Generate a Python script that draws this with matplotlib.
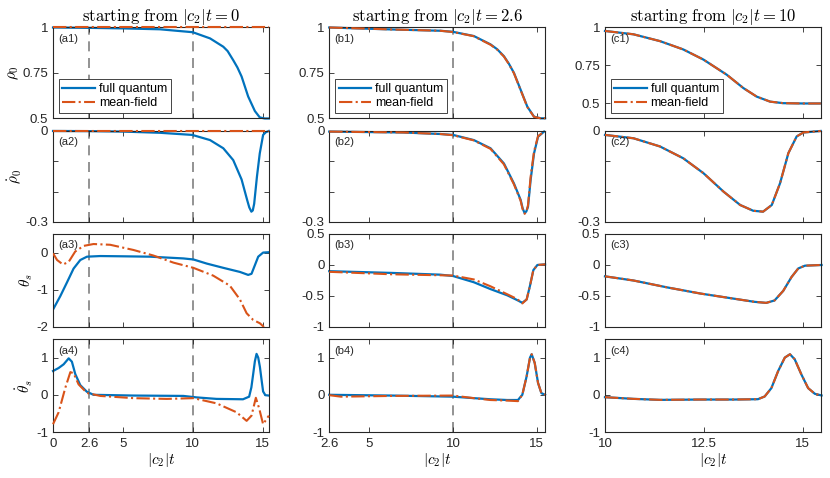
import matplotlib
matplotlib.use("Agg")
import matplotlib.pyplot as plt

plt.rcParams.update({
    "font.family": "Liberation Sans",
    "mathtext.fontset": "cm",
    "axes.unicode_minus": False,
    "font.size": 9,
})

BLUE = "#0072BD"
ORANGE = "#D95319"

# ---- column a: starting from |c2|t = 0 ----
A1_T_FQ = [0, 2.6, 5, 7.66, 10, 11.24, 12.19, 12.5, 12.9, 13.2, 13.5, 13.97, 14.45, 14.8, 15.16, 15.45]
A1_FQ = [1.0, 0.998, 0.995, 0.99, 0.974, 0.94, 0.894, 0.87, 0.82, 0.78, 0.73, 0.62, 0.54, 0.505, 0.499, 0.499]
A1_T_MF = [0, 15.45]
A1_MF = [1.0, 1.0]

A2_T_FQ = [0, 2.6, 5, 7.66, 9.97, 11.24, 12.19, 12.9, 13.5, 13.9, 14.05, 14.2, 14.3, 14.4,
           14.6, 14.8, 15.04, 15.24, 15.45]
A2_FQ = [0, -0.0005, -0.002, -0.006, -0.013, -0.03, -0.057, -0.096, -0.16, -0.228, -0.252, -0.266,
         -0.262, -0.24, -0.15, -0.074, -0.013, -0.004, 0]
A2_T_MF = [0, 15.45]
A2_MF = [0.0, 0.0]

A3_T_FQ = [0, 0.52, 1.0, 1.47, 1.95, 2.43, 3.38, 5, 6.95, 9.33, 10.05, 11.0, 12.19, 13.38,
           13.97, 14.21, 14.45, 14.69, 15.04, 15.45]
A3_FQ = [-1.53, -1.17, -0.8, -0.43, -0.2, -0.11, -0.093, -0.1, -0.11, -0.157, -0.185, -0.295,
         -0.41, -0.52, -0.6, -0.57, -0.34, -0.11, 0, 0.01]
A3_T_MF = [0, 0.29, 0.71, 1.12, 1.59, 2.19, 2.9, 4.09, 5.76, 7.19, 8.62, 10.05, 11.47, 12.66,
           13.38, 13.86, 14.33, 14.81, 15.1]
A3_MF = [-0.02, -0.2, -0.32, -0.25, 0.03, 0.18, 0.23, 0.21, 0.07, -0.08, -0.27, -0.41, -0.62,
         -0.89, -1.26, -1.63, -1.81, -1.9, -2.0]

A4_T_FQ = [0, 0.4, 0.76, 1.12, 1.35, 1.59, 1.95, 2.43, 2.9, 5.76, 9.33, 10.29, 11.71, 13.6,
           14.04, 14.2, 14.33, 14.45, 14.57, 14.69, 14.81, 14.93, 15.04, 15.2, 15.45]
A4_FQ = [0.64, 0.72, 0.82, 0.98, 0.89, 0.56, 0.26, 0.08, 0.0, -0.02, -0.03, -0.07, -0.11, -0.12,
         -0.05, 0.2, 0.56, 0.9, 1.1, 1.0, 0.75, 0.4, 0.09, -0.01, -0.02]
A4_T_MF = [0, 0.4, 0.88, 1.24, 1.47, 1.83, 2.43, 3.38, 5.76, 8.14, 10.05, 11.71, 13.14, 13.86,
           14.21, 14.52, 14.76, 15.04, 15.45]
A4_MF = [-0.79, -0.47, 0.19, 0.61, 0.58, 0.28, 0.05, -0.03, -0.09, -0.11, -0.09, -0.23, -0.47,
         -0.7, -0.56, -0.08, -0.37, -0.79, -0.56]

# ---- column b: starting from |c2|t = 2.6 ----
B1_T = [2.6, 6.04, 9.24, 10, 11.24, 12.24, 12.64, 13.04, 13.34, 13.64, 14.04, 14.44, 14.84, 15.24, 15.5]
B1_FQ = [1.0, 0.99, 0.982, 0.976, 0.953, 0.907, 0.88, 0.842, 0.8, 0.75, 0.657, 0.564, 0.509, 0.5, 0.5]
B1_MF = [1.0, 0.99, 0.982, 0.975, 0.952, 0.905, 0.878, 0.84, 0.798, 0.748, 0.655, 0.562, 0.508, 0.5, 0.5]

B2_T = [2.6, 7.04, 9.24, 10, 11.24, 12.24, 13.04, 13.64, 14.04, 14.16, 14.28, 14.38, 14.48,
        14.64, 14.84, 15.08, 15.44]
B2_FQ = [-0.002, -0.005, -0.01, -0.013, -0.03, -0.057, -0.107, -0.173, -0.227, -0.255, -0.271,
         -0.265, -0.25, -0.16, -0.074, -0.019, -0.002]
B2_MF = [-0.002, -0.005, -0.01, -0.014, -0.031, -0.059, -0.11, -0.176, -0.23, -0.258, -0.273,
         -0.267, -0.245, -0.15, -0.068, -0.017, -0.002]

B3_T_FQ = [2.6, 6.34, 9.24, 10, 11.24, 12.24, 13.24, 13.84, 14.14, 14.4, 14.6, 14.8, 15.04, 15.5]
B3_FQ = [-0.1, -0.128, -0.156, -0.178, -0.278, -0.389, -0.489, -0.567, -0.61, -0.556, -0.333,
         -0.083, 0, 0.01]
B3_T_MF = [2.6, 6.34, 10, 11.24, 12.24, 13.24, 13.84, 14.14, 14.4, 14.6, 14.8, 15.04, 15.5]
B3_MF = [-0.11, -0.15, -0.17, -0.233, -0.344, -0.472, -0.55, -0.62, -0.556, -0.333, -0.083, 0, 0.01]

B4_T_FQ = [2.6, 6.34, 10, 11.24, 12.24, 13.24, 13.88, 14.14, 14.4, 14.6, 14.7, 14.88, 15.08, 15.28, 15.5]
B4_FQ = [0, -0.02, -0.05, -0.09, -0.12, -0.14, -0.14, 0, 0.5, 1.0, 1.09, 0.86, 0.32, 0.045, 0]
B4_T_MF = [2.6, 3.3, 6.34, 10, 11.24, 12.24, 13.24, 13.88, 14.14, 14.4, 14.6, 14.7, 14.88, 15.08, 15.28, 15.5]
B4_MF = [-0.01, -0.05, -0.03, -0.02, -0.09, -0.14, -0.155, -0.17, 0, 0.5, 1.0, 1.09, 0.86, 0.32, 0.045, 0]

# ---- column c: starting from |c2|t = 10 (both curves coincide) ----
C1_T = [10, 10.72, 11.39, 11.98, 12.49, 13.08, 13.5, 13.84, 14.18, 14.51, 15.0, 15.46]
C1_FQ = [0.977, 0.955, 0.91, 0.855, 0.788, 0.688, 0.6, 0.543, 0.51, 0.5, 0.498, 0.498]
C1_MF = C1_FQ

C2_T = [10, 10.72, 11.39, 11.98, 12.49, 13.0, 13.42, 13.75, 14.0, 14.22, 14.43, 14.64, 14.85, 15.02, 15.46]
C2_FQ = [-0.013, -0.024, -0.051, -0.09, -0.139, -0.2, -0.244, -0.263, -0.266, -0.244, -0.172,
         -0.073, -0.018, -0.005, 0]
C2_MF = C2_FQ

C3_T = [10, 10.72, 11.57, 12.42, 13.27, 13.78, 14.08, 14.29, 14.51, 14.72, 14.89, 15.06, 15.48]
C3_FQ = [-0.183, -0.25, -0.361, -0.461, -0.544, -0.594, -0.611, -0.572, -0.417, -0.194, -0.056, -0.011, 0]
C3_MF = C3_FQ

C4_T = [10, 10.72, 11.4, 12.42, 13.27, 13.87, 14.04, 14.21, 14.38, 14.55, 14.68, 14.8, 14.97, 15.14, 15.31, 15.48]
C4_FQ = [-0.064, -0.109, -0.136, -0.127, -0.127, -0.118, -0.045, 0.18, 0.636, 1.0, 1.09, 0.955,
         0.545, 0.18, 0.027, -0.018]
C4_MF = C4_FQ

START_TIMES = ["0", "2.6", "10"]
COL_XLIM = [(0, 15.45), (2.6, 15.5), (10, 15.46)]
COL_XTICKS = [[0, 2.6, 5, 10, 15], [2.6, 5, 10, 15], [10, 12.5, 15]]
COL_XTICKLABELS = [["0", "2.6", "5", "10", "15"], ["2.6", "5", "10", "15"], ["10", "12.5", "15"]]
COL_VLINES = [[2.6, 10], [10], []]
YLABELS = [r"$\rho_0$", r"$\dot{\rho}_0$", r"$\theta_s$", r"$\dot{\theta}_s$"]

PANELS = {
    "a1": (A1_T_FQ, A1_FQ, A1_T_MF, A1_MF),
    "a2": (A2_T_FQ, A2_FQ, A2_T_MF, A2_MF),
    "a3": (A3_T_FQ, A3_FQ, A3_T_MF, A3_MF),
    "a4": (A4_T_FQ, A4_FQ, A4_T_MF, A4_MF),
    "b1": (B1_T, B1_FQ, B1_T, B1_MF),
    "b2": (B2_T, B2_FQ, B2_T, B2_MF),
    "b3": (B3_T_FQ, B3_FQ, B3_T_MF, B3_MF),
    "b4": (B4_T_FQ, B4_FQ, B4_T_MF, B4_MF),
    "c1": (C1_T, C1_FQ, C1_T, C1_MF),
    "c2": (C2_T, C2_FQ, C2_T, C2_MF),
    "c3": (C3_T, C3_FQ, C3_T, C3_MF),
    "c4": (C4_T, C4_FQ, C4_T, C4_MF),
}


def row_yaxis(row, col):
    if row == 0:
        lo = 0.4 if col == 2 else 0.5
        return (lo, 1.0), [0.5, 0.75, 1], ["0.5", "0.75", "1"]
    if row == 1:
        return (-0.3, 0), [-0.3, -0.2, -0.1, 0], ["-0.3", "", "", "0"]
    if row == 2:
        if col == 0:
            return (-2, 0.5), [-2, -1, 0], ["-2", "-1", "0"]
        return (-1, 0.5), [-1, -0.5, 0, 0.5], ["-1", "-0.5", "0", "0.5"]
    return (-1, 1.5), [-1, 0, 1], ["-1", "0", "1"]


fig = plt.figure(figsize=(8.3, 4.78), dpi=100)

lefts = [0.0639, 0.3967, 0.7289]
width = 0.2600
rows = [(0.7525, 0.1900), (0.5356, 0.1904), (0.3159, 0.1946), (0.0962, 0.1946)]

for col in range(3):
    for row in range(4):
        name = "abc"[col] + str(row + 1)
        t_fq, fq, t_mf, mf = PANELS[name]
        ax = fig.add_axes([lefts[col], rows[row][0], width, rows[row][1]])

        for xv in COL_VLINES[col]:
            ax.axvline(xv, color="#808080", lw=1.2, ls=(0, (6, 4)), zorder=1)

        clip = name == "a3"
        ax.plot(t_fq, fq, color=BLUE, lw=1.6, label="full quantum", zorder=2, clip_on=clip)
        ax.plot(t_mf, mf, color=ORANGE, lw=1.5, ls="-.", label="mean-field", zorder=3, clip_on=clip)

        ylim, yt, ytl = row_yaxis(row, col)
        ax.set_xlim(*COL_XLIM[col])
        ax.set_ylim(*ylim)
        ax.set_yticks(yt)
        ax.set_yticklabels(ytl)
        ax.set_xticks(COL_XTICKS[col])
        if row == 3:
            ax.set_xticklabels(COL_XTICKLABELS[col])
            ax.set_xlabel(r"$|c_2|t$", fontsize=11, labelpad=1)
        else:
            ax.set_xticklabels([])

        ax.tick_params(direction="in", top=True, right=True, length=3.5, width=0.6,
                       labelsize=9.5, colors="#262626")
        ax.tick_params(axis="x", pad=4)
        ax.tick_params(axis="y", pad=3.5)
        for sp in ax.spines.values():
            sp.set_linewidth(0.8)
            sp.set_color("#262626")

        ax.text(0.025, 0.93, "(" + name + ")", transform=ax.transAxes, fontsize=8,
                va="top", ha="left", color="#262626")

        if col == 0:
            ax.set_ylabel(YLABELS[row], fontsize=11, labelpad=1)
        if row == 0:
            ax.set_title(r"$\mathrm{starting\ from}\ |c_2|t=" + START_TIMES[col] + "$",
                         fontsize=12, pad=3)
            leg = ax.legend(loc="lower left", fontsize=9, frameon=True, fancybox=False,
                            framealpha=1, edgecolor="#262626", borderpad=0.3,
                            handlelength=2.6, handletextpad=0.3, labelspacing=0.15,
                            borderaxespad=0.45)
            leg.get_frame().set_linewidth(0.6)

fig.savefig("out.png", dpi=100)
